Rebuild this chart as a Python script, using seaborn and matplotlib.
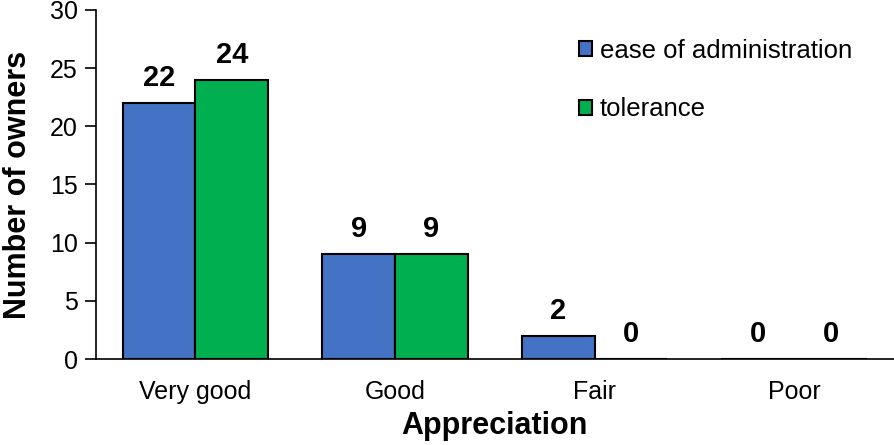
import numpy as np
import pandas as pd
import seaborn as sns
import matplotlib.pyplot as plt

categories = ["Very good", "Good", "Fair", "Poor"]
ease = [22, 9, 2, 0]
tolerance = [24, 9, 0, 0]
series = ["ease of administration", "tolerance"]

df = pd.DataFrame({
    "Appreciation": categories * 2,
    "Number of owners": ease + tolerance,
    "series": [series[0]] * 4 + [series[1]] * 4,
})

sns.set_theme(style="ticks")
plt.rcParams['font.family'] = ['Liberation Sans', 'DejaVu Sans']
plt.rcParams['text.color'] = 'black'
plt.rcParams['axes.labelcolor'] = 'black'

fig = plt.figure(figsize=(8.94, 4.45), dpi=100)
ax = fig.add_axes([0.107, 0.193, 0.893, 0.785])

sns.barplot(data=df, x="Appreciation", y="Number of owners", hue="series",
            palette=["#4472C4", "#00B050"], width=0.73, gap=0,
            edgecolor="black", linewidth=1.5, saturation=1, ax=ax)

for c in ax.containers:
    ax.bar_label(c, padding=8, fontsize=21, fontweight="bold", color="black")

ax.set_ylim(0, 30)
ax.set_xlim(-0.5, 3.5)
ax.set_yticks(range(0, 31, 5))
ax.tick_params(axis="y", labelsize=18, length=8, width=1.2, direction="out",
               colors="black", pad=5)
ax.tick_params(axis="x", labelsize=18, length=0, pad=15, colors="black")
ax.set_xlabel("Appreciation", fontsize=22, fontweight="bold", labelpad=5)
ax.set_ylabel("Number of owners", fontsize=22, fontweight="bold", labelpad=12)
for s in ["top", "right"]:
    ax.spines[s].set_visible(False)
ax.spines["left"].set_linewidth(1.2)
ax.spines["bottom"].set_linewidth(1.2)
ax.spines["left"].set_color("black")
ax.spines["bottom"].set_color("black")

leg = ax.legend(loc="upper left", bbox_to_anchor=(0.606, 0.917), frameon=False,
                fontsize=18.5, handlelength=0.5, handleheight=0.5,
                handletextpad=0.3, labelspacing=1.35, borderpad=0, borderaxespad=0)
for h in leg.legend_handles:
    h.set_edgecolor("black")
    h.set_linewidth(1.5)

fig.savefig("out.png", dpi=100)
